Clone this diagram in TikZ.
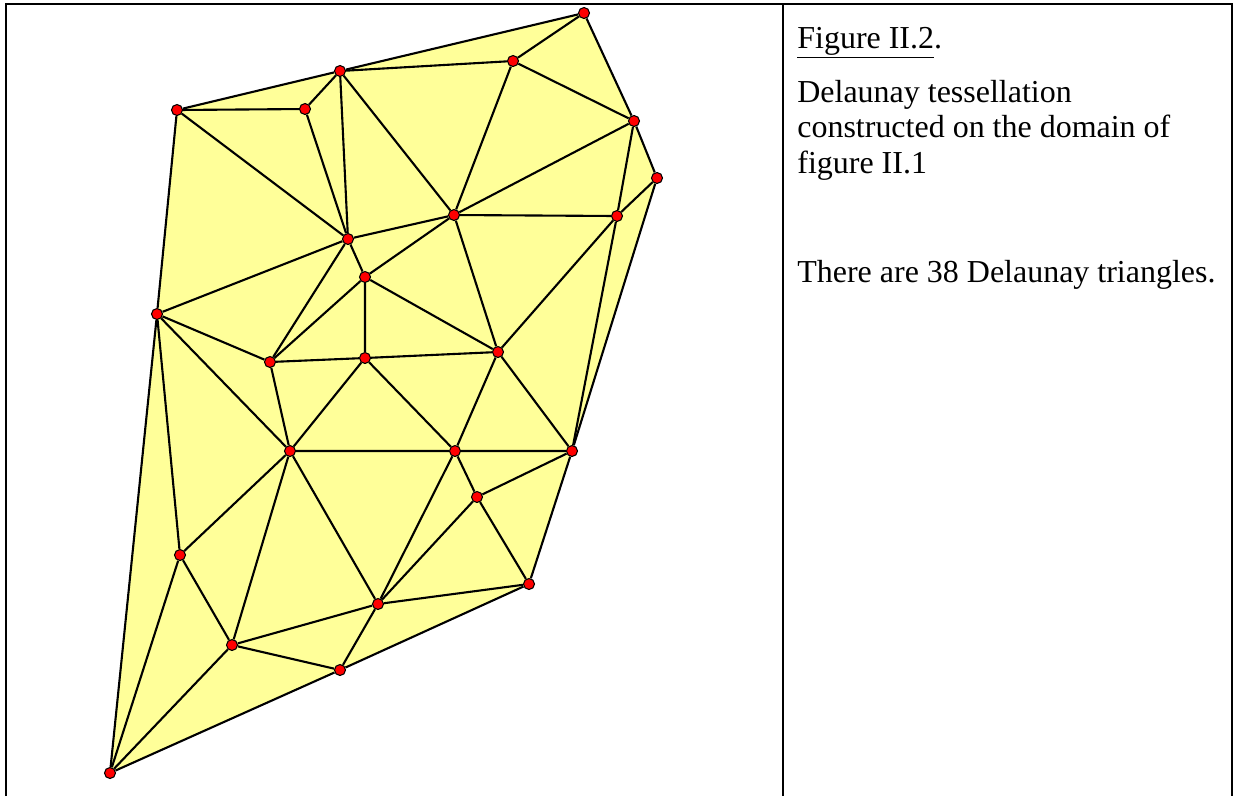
\documentclass[tikz,border=0pt]{standalone}
\usepackage{fontspec}
\setmainfont{Liberation Serif}
\usepackage{xcolor}
\usepackage{tikz}
\usetikzlibrary{backgrounds}

\definecolor{paleyellow}{HTML}{FFFF99}

\begin{document}
\begin{tikzpicture}[
    x=0.02cm, y=-0.02cm,
    site/.style={
        circle,
        fill=red,
        draw=black,
        line width=0.6pt,
        inner sep=0pt,
        minimum size=0.22cm
    },
    edge/.style={
        line width=1.2pt,
        line join=round
    },
    frame/.style={
        line width=1.2pt
    },
    txt/.style={
        anchor=base west,
        inner sep=0pt,
        font=\fontsize{18.2}{21}\selectfont
    }
]
\useasboundingbox (0,0) rectangle (1234,796);

% ==========================================
% FRAME
% ==========================================
\draw[frame] (6,796) -- (6,4) -- (1233,4);
\draw[frame] (783,4) -- (783,796);
\draw[line width=0.6pt] (1232,4) -- (1232,796);

% ==========================================
% SITES
% ==========================================
\node[site] (p1) at (584,13) {};
\node[site] (p2) at (513,61) {};
\node[site] (p3) at (340,71) {};
\node[site] (p4) at (177,110) {};
\node[site] (p5) at (305,109) {};
\node[site] (p6) at (634,121) {};
\node[site] (p7) at (657,178) {};
\node[site] (p8) at (617,216) {};
\node[site] (p9) at (454,215) {};
\node[site] (p10) at (348,239) {};
\node[site] (p11) at (365,277) {};
\node[site] (p12) at (157,314) {};
\node[site] (p13) at (270,362) {};
\node[site] (p14) at (365,358) {};
\node[site] (p15) at (498,352) {};
\node[site] (p16) at (290,451) {};
\node[site] (p17) at (455,451) {};
\node[site] (p18) at (572,451) {};
\node[site] (p19) at (477,497) {};
\node[site] (p20) at (180,555) {};
\node[site] (p21) at (529,584) {};
\node[site] (p22) at (378,604) {};
\node[site] (p23) at (232,645) {};
\node[site] (p24) at (340,670) {};
\node[site] (p25) at (110,773) {};

% Domain (convex hull)
\begin{scope}[on background layer]
\fill[paleyellow] (p25.center) -- (p12.center) -- (p4.center) -- (p3.center)
    -- (p1.center) -- (p6.center) -- (p7.center) -- (p18.center)
    -- (p21.center) -- (p24.center) -- cycle;
\end{scope}

% ==========================================
% TRIANGLE EDGES
% ==========================================
% Hull
\draw[edge] (p25) -- (p12) -- (p4) -- (p3) -- (p1) -- (p6) -- (p7) -- (p18) -- (p21) -- (p24) -- (p25);

% Upper part
\draw[edge] (p1) -- (p2) (p2) -- (p3) (p2) -- (p6) (p2) -- (p9);
\draw[edge] (p3) -- (p5) (p3) -- (p10) (p3) -- (p9);
\draw[edge] (p4) -- (p5) (p4) -- (p10) (p5) -- (p10);
\draw[edge] (p6) -- (p9) (p6) -- (p8) (p7) -- (p8);
\draw[edge] (p8) -- (p9) (p8) -- (p15) (p8) -- (p18);
\draw[edge] (p9) -- (p10) (p9) -- (p11) (p9) -- (p15);

% Middle part
\draw[edge] (p10) -- (p11) (p10) -- (p12) (p10) -- (p13);
\draw[edge] (p11) -- (p13) (p11) -- (p14) (p11) -- (p15);
\draw[edge] (p12) -- (p13) (p12) -- (p16) (p12) -- (p20);
\draw[edge] (p13) -- (p14) (p13) -- (p16);
\draw[edge] (p14) -- (p15) (p14) -- (p16) (p14) -- (p17);
\draw[edge] (p15) -- (p17) (p15) -- (p18);
\draw[edge] (p16) -- (p17) (p16) -- (p20) (p16) -- (p23) (p16) -- (p22);
\draw[edge] (p17) -- (p18) (p17) -- (p19) (p17) -- (p22);

% Lower part
\draw[edge] (p18) -- (p19) (p19) -- (p21) (p19) -- (p22);
\draw[edge] (p20) -- (p23) (p20) -- (p25);
\draw[edge] (p21) -- (p22) (p22) -- (p23) (p22) -- (p24);
\draw[edge] (p23) -- (p24) (p23) -- (p25);

% ==========================================
% CAPTION
% ==========================================
\node[txt] (title) at (797,48) {\underline{Figure II.2}.};
\node[txt] (capa) at (797,102) {Delaunay tessellation};
\node[txt] (capb) at (797,137.5) {constructed on the domain of};
\node[txt] (capc) at (797,173) {figure II.1};
\node[txt] (count) at (797,282) {There are 38 Delaunay triangles.};

\end{tikzpicture}
\end{document}
